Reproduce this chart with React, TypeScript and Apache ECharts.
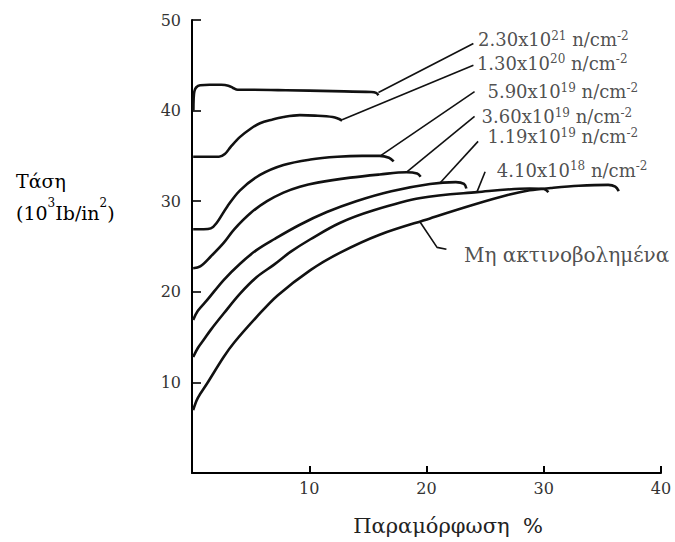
import { useEffect, useRef } from "react";
import * as echarts from "echarts";

// Curves: strain (%) and stress (10^3 lb/in^2)
const c1x = [0.12, 0.14, 0.2, 0.35, 0.7, 1.5, 2.5, 3.1, 3.5, 3.9, 5, 8, 12, 15.3, 15.7, 15.9];
const c1y = [40.0, 41.3, 42.1, 42.55, 42.8, 42.85, 42.85, 42.75, 42.5, 42.3, 42.3, 42.25, 42.15, 42.05, 41.95, 41.7];

const c2x = [0.1, 1, 2.3, 2.8, 3.3, 4.1, 5, 5.8, 6.8, 7.8, 9.2, 10.5, 12.0, 12.5, 12.8];
const c2y = [34.9, 34.9, 34.9, 35.2, 36.0, 37.1, 38.0, 38.6, 39.0, 39.3, 39.5, 39.45, 39.3, 39.1, 38.9];

const c3x = [0.1, 1.0, 1.6, 2.1, 3.0, 4.1, 5.8, 7.8, 10.1, 12.4, 14.5, 16.0, 16.8, 17.2];
const c3y = [26.9, 26.9, 27.0, 27.6, 29.4, 31.2, 32.9, 34.0, 34.6, 34.9, 35.0, 35.0, 34.8, 34.4];

const c4x = [0.1, 0.7, 1.6, 2.7, 3.6, 5.0, 6.4, 7.8, 9.2, 10.7, 13.5, 16, 18.3, 19.2, 19.5];
const c4y = [22.6, 22.8, 23.9, 25.4, 26.9, 28.7, 30.0, 30.95, 31.6, 32.05, 32.6, 32.95, 33.2, 33.05, 32.7];

const c5x = [0.1, 0.5, 1.3, 2.7, 4.1, 5.5, 7.0, 9.2, 11.5, 14.0, 17, 20.3, 22.5, 23.2, 23.4];
const c5y = [16.9, 17.9, 19.1, 21.3, 23.1, 24.6, 25.8, 27.4, 28.8, 30.0, 31.1, 31.9, 32.1, 31.9, 31.4];

const c6x = [0.1, 0.5, 1.0, 1.6, 2.7, 4.1, 5.5, 7.0, 8.4, 10.1, 12.6, 15.5, 19.5, 24.3, 28.8, 30.0, 30.4];
const c6y = [12.8, 13.8, 14.7, 15.8, 17.6, 19.8, 21.6, 23.0, 24.4, 25.8, 27.6, 29.0, 30.35, 31.0, 31.4, 31.35, 31.0];

const c7x = [0.1, 0.5, 1.3, 2.7, 3.6, 5.5, 7.3, 10.1, 12.6, 16, 20.3, 24, 27, 28.8, 30.6, 33, 35.5, 36.1, 36.4];
const c7y = [6.95, 8.3, 9.9, 12.8, 14.4, 17.2, 19.6, 22.4, 24.3, 26.3, 28.1, 29.6, 30.7, 31.2, 31.45, 31.7, 31.8, 31.6, 31.1];

const curveNames = [
  "2.30x10^21 n/cm^-2",
  "1.30x10^20 n/cm^-2",
  "5.90x10^19 n/cm^-2",
  "3.60x10^19 n/cm^-2",
  "1.19x10^19 n/cm^-2",
  "4.10x10^18 n/cm^-2",
  "Μη ακτινοβολημένα",
];
const curvesX = [c1x, c2x, c3x, c4x, c5x, c6x, c7x];
const curvesY = [c1y, c2y, c3y, c4y, c5y, c6y, c7y];

// Label texts: mantissa, exponent
const fluenceBase = ["2.30x10", "1.30x10", "5.90x10", "3.60x10", "1.19x10", "4.10x10"];
const fluenceExp = ["21", "20", "19", "19", "19", "18"];
const unirradiatedLabel = "Μη ακτινοβολημένα";

// Leader lines (data coordinates): start on curve -> end near label
const leaderX = [
  [15.9, 24.0],
  [12.8, 24.0],
  [16.0, 24.1],
  [18.3, 24.1],
  [21.15, 24.4],
  [24.3, 25.0],
  [19.45, 20.9, 21.7],
];
const leaderY = [
  [42.0, 47.4],
  [39.0, 45.0],
  [34.95, 42.1],
  [33.2, 39.35],
  [32.0, 36.6],
  [31.0, 33.25],
  [27.7, 24.9, 24.7],
];
// Label anchors (data coordinates, left edge / vertical middle)
const labelX = [24.4, 24.3, 25.2, 24.7, 25.2, 26.0, 23.2];
const labelY = [47.8, 45.25, 42.1, 39.3, 37.1, 33.4, 24.1];

const xTickLabels = ["", "10", "20", "30", "40"];
const yTickLabels = ["", "10", "20", "30", "40", "50"];

const SERIF = "'DejaVu Serif', 'Liberation Serif', serif";

export default function App() {
  const ref = useRef<HTMLDivElement>(null);

  useEffect(() => {
    if (!ref.current) return;
    const chart = echarts.init(ref.current, undefined, { renderer: "svg" });

    const curveSeries = curvesX.map((xs, i) => ({
      name: curveNames[i],
      type: "line",
      data: xs.map((x, j) => [x, curvesY[i][j]]),
      showSymbol: false,
      symbol: "none",
      smooth: 0.35,
      lineStyle: { color: "#111", width: 2.6 },
      z: 3,
    }));

    const leaderSeries = leaderX.map((xs, i) => ({
      name: "leader" + i,
      type: "line",
      data: xs.map((x, j) => [x, leaderY[i][j]]),
      showSymbol: false,
      symbol: "none",
      lineStyle: { color: "#111", width: 1.6 },
      z: 2,
    }));

    const labelSeries = {
      type: "scatter",
      name: "labels",
      symbolSize: 0,
      data: labelX.map((x, i) => [x, labelY[i]]),
      z: 4,
      label: {
        show: true,
        position: "right",
        distance: 0,
        formatter: (p: any) => {
          const i = p.dataIndex;
          if (i < fluenceBase.length) {
            return `{m|${fluenceBase[i]}}{s|${fluenceExp[i]}}{m| n/cm}{s|-2}`;
          }
          return `{u|${unirradiatedLabel}}`;
        },
        rich: {
          m: { fontFamily: SERIF, fontSize: 18, color: "#222", lineHeight: 20 },
          s: { fontFamily: SERIF, fontSize: 12, color: "#222", lineHeight: 12, verticalAlign: "top" },
          u: { fontFamily: SERIF, fontSize: 20, color: "#222", lineHeight: 22 },
        },
      },
    };

    chart.setOption({
      animation: false,
      backgroundColor: "#fff",
      grid: { left: 192, right: 14, top: 20, bottom: 69, containLabel: false, outerBoundsMode: "none" },
      xAxis: {
        type: "value",
        min: 0,
        max: 40,
        interval: 10,
        axisLine: { show: true, onZero: false, lineStyle: { color: "#000", width: 2 } },
        axisTick: { show: true, inside: true, length: 7, lineStyle: { color: "#000", width: 2 } },
        axisLabel: {
          formatter: (v: number) => xTickLabels[Math.round(v / 10)] ?? "",
          fontFamily: SERIF,
          fontSize: 16,
          color: "#333",
          margin: 7,
        },
        splitLine: { show: false },
      },
      yAxis: {
        type: "value",
        min: 0,
        max: 50,
        interval: 10,
        axisLine: { show: true, onZero: false, lineStyle: { color: "#000", width: 2 } },
        axisTick: { show: true, inside: true, length: 9, lineStyle: { color: "#000", width: 1.6 } },
        axisLabel: {
          formatter: (v: number) => yTickLabels[Math.round(v / 10)] ?? "",
          fontFamily: SERIF,
          fontSize: 16,
          color: "#333",
          margin: 11,
        },
        splitLine: { show: false },
      },
      graphic: [
        {
          type: "text",
          left: 16,
          top: 171,
          style: {
            text: "{a|Τάση}\n{a|(10}{b|3}{a|Ib/in}{b|2}{a|)}",
            rich: {
              a: { fontFamily: SERIF, fontSize: 19, color: "#222", lineHeight: 32 },
              b: { fontFamily: SERIF, fontSize: 12, color: "#222", lineHeight: 22, verticalAlign: "top" },
            },
          },
        },
        {
          type: "text",
          x: 448,
          y: 526,
          style: {
            text: "Παραμόρφωση  %",
            fontFamily: SERIF,
            fontSize: 21,
            fill: "#222",
            align: "center",
            verticalAlign: "middle",
          },
        },
      ],
      series: [...curveSeries, ...leaderSeries, labelSeries],
    });

    return () => chart.dispose();
  }, []);

  return (
    <div
      ref={ref}
      style={{ position: "fixed", left: 0, top: 0, width: 675, height: 542, background: "#fff" }}
    />
  );
}
